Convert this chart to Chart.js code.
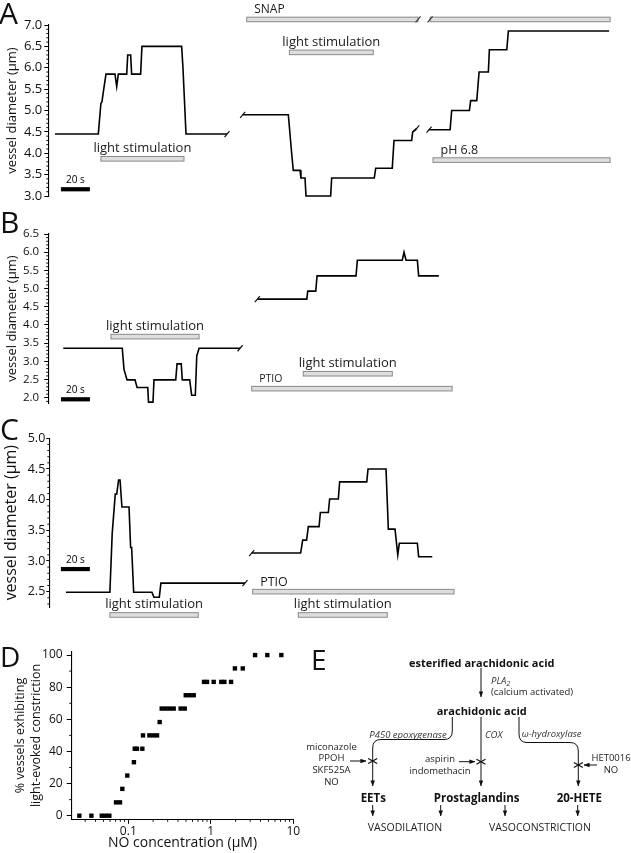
<!DOCTYPE html>
<html>
<head>
<meta charset="utf-8">
<script src="https://cdn.jsdelivr.net/npm/chart.js@4.4.1/dist/chart.umd.min.js"></script>
<style>
  body { margin: 0; background: #fff; }
  #page { position: relative; width: 631px; height: 853px; overflow: hidden; }
  canvas { position: absolute; left: 0; }
  svg { position: absolute; left: 0; top: 0; }
</style>
</head>
<body>
<div id="page">
  <canvas id="chartA" width="631" height="210" style="top:0px"></canvas>
  <canvas id="chartB" width="631" height="210" style="top:210px"></canvas>
  <canvas id="chartC" width="631" height="210" style="top:420px"></canvas>
  <canvas id="chartD" width="305" height="223" style="top:630px"></canvas>

  <svg width="631" height="853" font-family="'Open Sans', sans-serif" fill="#111">
    <defs>
      <marker id="ah" viewBox="0 0 8 6" refX="7.5" refY="3" markerWidth="6" markerHeight="4.5"
              markerUnits="userSpaceOnUse" orient="auto">
        <path d="M0,0L8,3L0,6z" fill="#111"/>
      </marker>
    </defs>
    <g font-size="30">
      <text x="-1" y="23.5">A</text>
      <text x="0" y="233">B</text>
      <text x="0" y="440">C</text>
    </g>
    <g font-size="28">
      <text x="0" y="666.5">D</text>
      <text x="311" y="670">E</text>
    </g>

    <!-- E: arachidonic acid pathways -->
    <g stroke="#111" stroke-width="1" fill="none">
      <path d="M481,668V697" marker-end="url(#ah)"/>
      <path d="M452.3,717V731Q452.3,739.5 444,739.5H381Q372.7,739.5 372.7,748V786" marker-end="url(#ah)"/>
      <path d="M481,717V786" marker-end="url(#ah)"/>
      <path d="M519,717V734Q519,742.5 527,742.5H570Q578.3,742.5 578.3,751V786" marker-end="url(#ah)"/>
      <path d="M350,761H366" marker-end="url(#ah)"/>
      <path d="M459,761.7H475" marker-end="url(#ah)"/>
      <path d="M597,765H584" marker-end="url(#ah)"/>
      <path d="M368.2,758.5L377.2,763.5M368.2,763.5L377.2,758.5" stroke-width="1.2"/>
      <path d="M476.5,759.2L485.5,764.2M476.5,764.2L485.5,759.2" stroke-width="1.2"/>
      <path d="M573.8,762.5L582.8,767.5M573.8,767.5L582.8,762.5" stroke-width="1.2"/>
      <path d="M372.7,805V816" marker-end="url(#ah)"/>
      <path d="M440.7,805V816" marker-end="url(#ah)"/>
      <path d="M505,805V816" marker-end="url(#ah)"/>
      <path d="M577.7,805V816" marker-end="url(#ah)"/>
    </g>
    <g dominant-baseline="central">
      <g font-weight="bold" font-size="11" text-anchor="middle">
        <text x="481.7" y="662.3">esterified arachidonic acid</text>
        <text x="481.7" y="710">arachidonic acid</text>
      </g>
      <g font-weight="bold" font-size="11.5" text-anchor="middle">
        <text x="373.3" y="797">EETs</text>
        <text x="476.7" y="797">Prostaglandins</text>
        <text x="579.3" y="797">20-HETE</text>
      </g>
      <g font-style="italic" font-size="9.5" fill="#333">
        <text x="491" y="680">PLA<tspan font-size="7.5" dy="2.5">2</tspan></text>
        <text x="446.7" y="734.3" text-anchor="end">P450 epoxygenase</text>
        <text x="485" y="734">COX</text>
        <text x="521.7" y="733.5">ω-hydroxylase</text>
      </g>
      <g font-size="9.5" fill="#222" text-anchor="middle">
        <text x="491" y="691.5" text-anchor="start">(calcium activated)</text>
        <text x="331.5" y="746">miconazole</text>
        <text x="331.5" y="757.7">PPOH</text>
        <text x="331.5" y="769.4">SKF525A</text>
        <text x="331.5" y="781">NO</text>
        <text x="440" y="758.3">aspirin</text>
        <text x="440" y="770">indomethacin</text>
        <text x="611" y="757">HET0016</text>
        <text x="611" y="769.5">NO</text>
      </g>
      <g font-size="10.5" fill="#222" text-anchor="middle">
        <text x="405" y="827.3">VASODILATION</text>
        <text x="540" y="827.3">VASOCONSTRICTION</text>
      </g>
    </g>
  </svg>
</div>

<script>
// ---------- data: vessel diameter traces (time in s, diameter in µm) ----------
const aSeg1Time = [0, 29.9, 31.7, 32.4, 33.3, 35.2, 41.4, 42.6, 43.7, 49.5, 50.2, 52.2, 52.9, 59.1, 60.0, 87.4, 88.3, 90.4, 118.7];
const aSeg1Diam = [4.45, 4.45, 5.17, 5.2, 5.42, 5.85, 5.85, 5.56, 5.85, 5.85, 6.3, 6.3, 5.85, 5.85, 6.5, 6.5, 6.0, 4.45, 4.45];
const aSeg2Time = [129.5, 161.0, 163.3, 164.4, 169.1, 169.7, 172.5, 173.2, 190.2, 190.9, 220.3, 221.3, 232.7, 233.9, 246.1, 246.8, 249.6];
const aSeg2Diam = [4.9, 4.9, 4.0, 3.6, 3.6, 3.42, 3.42, 3.0, 3.0, 3.42, 3.42, 3.65, 3.65, 4.3, 4.3, 4.5, 4.58];
const aSeg3Time = [258.1, 272.6, 273.7, 285.9, 286.8, 291.0, 292.6, 299.0, 299.7, 311.7, 312.8, 382.3];
const aSeg3Diam = [4.55, 4.55, 5.0, 5.0, 5.23, 5.23, 5.9, 5.9, 6.42, 6.42, 6.86, 6.86];

const bSeg1Time = [5.7, 46.4, 47.6, 49.7, 55.2, 56.6, 64.0, 64.5, 67.6, 68.3, 83.3, 84.2, 87.1, 87.8, 92.9, 94.3, 96.8, 97.8, 99.4, 127.7];
const bSeg1Diam = [3.36, 3.36, 2.78, 2.49, 2.49, 2.28, 2.28, 1.88, 1.88, 2.49, 2.49, 2.93, 2.93, 2.49, 2.49, 2.07, 2.07, 3.15, 3.36, 3.36];
const bSeg2Time = [139.6, 173.7, 174.4, 179.9, 180.8, 207.7, 208.6, 239.6, 240.8, 242.2, 250.0, 250.9, 264.8];
const bSeg2Diam = [4.71, 4.71, 4.93, 4.93, 5.35, 5.35, 5.78, 5.78, 6.0, 5.78, 5.78, 5.35, 5.35];

const cSeg1Time = [7.6, 37.9, 39.5, 41.6, 42.6, 43.9, 44.9, 46.2, 51.1, 52.2, 52.9, 54.3, 66.9, 68.3, 72.0, 73.1, 131.1];
const cSeg1Diam = [2.49, 2.49, 3.45, 4.09, 4.09, 4.32, 4.32, 3.88, 3.88, 3.22, 3.22, 2.49, 2.49, 2.41, 2.41, 2.64, 2.64];
const cSeg2Time = [135.7, 169.5, 170.9, 173.6, 174.8, 182.2, 183.1, 188.6, 189.5, 195.5, 196.4, 215.1, 216.0, 228.4, 230.0, 234.6, 236.5, 237.6, 250.0, 250.9, 260.3];
const cSeg2Diam = [3.13, 3.13, 3.34, 3.34, 3.56, 3.56, 3.79, 3.79, 4.01, 4.01, 4.29, 4.29, 4.5, 4.5, 3.52, 3.52, 3.1, 3.29, 3.29, 3.07, 3.07];

// treatment bars (start / end in s); "cont" = same treatment continued after a break
const aBarNames = ['light stimulation', 'SNAP', 'SNAP', 'light stimulation', 'pH 6.8'];
const aBarStart = [31.7, 132.3, 258.8, 161.7, 260.8];
const aBarEnd   = [89.0, 250.5, 383.0, 219.6, 383.0];
const aBarCont  = [false, false, true, false, false];

const bBarNames = ['light stimulation', 'light stimulation', 'PTIO'];
const bBarStart = [38.6, 171.3, 135.7];
const bBarEnd   = [99.4, 232.7, 274.0];
const bBarCont  = [false, false, false];

const cBarNames = ['light stimulation', 'PTIO', 'light stimulation'];
const cBarStart = [37.9, 136.4, 167.9];
const cBarEnd   = [98.9, 275.3, 229.3];
const cBarCont  = [false, false, false];

const scaleBarSeconds = 20;

// ---------- data: panel D ----------
const dConc = [0.0255, 0.0357, 0.0477, 0.0532, 0.0589, 0.0710, 0.0793, 0.0846, 0.0972, 0.117,
               0.1197, 0.1274, 0.148, 0.1507, 0.180, 0.201, 0.223, 0.240,
               0.254, 0.284, 0.318, 0.355, 0.431, 0.483, 0.497, 0.555, 0.621,
               0.828, 0.900, 1.083, 1.34, 1.46, 1.76, 1.96, 2.44, 3.44, 4.84, 7.16];
const dPct  = [0, 0, 0, 0, 0, 8.3, 8.3, 16.7, 25, 33.3,
               41.7, 41.7, 41.7, 50, 50, 50, 50, 58.3,
               66.7, 66.7, 66.7, 66.7, 66.7, 66.7, 75, 75, 75,
               83.3, 83.3, 83.3, 83.3, 83.3, 83.3, 91.7, 91.7, 100, 100, 100];
const dXTicks = [0.1, 1, 10];

// ---------- drawing ----------
const FONT = "'Open Sans', sans-serif";
Chart.defaults.font.family = FONT;
Chart.defaults.color = '#111';

function zip(ts, vs) {
  return ts.map((t, i) => ({ x: t, y: vs[i] }));
}

function slash(ctx, x, y) {
  ctx.beginPath();
  ctx.moveTo(x - 2.5, y + 3);
  ctx.lineTo(x + 2.5, y - 3);
  ctx.stroke();
}

const tracePlugin = {
  id: 'trace',
  afterDraw(chart, args, o) {
    const ctx = chart.ctx, xs = chart.scales.x, ys = chart.scales.y;
    ctx.save();
    ctx.strokeStyle = '#111';
    ctx.lineWidth = 1.2;
    // break marks where the recording was interrupted
    const sets = chart.data.datasets;
    sets.forEach((ds, i) => {
      const first = ds.data[0], last = ds.data[ds.data.length - 1];
      if (i > 0) slash(ctx, xs.getPixelForValue(first.x), ys.getPixelForValue(first.y));
      if (i < sets.length - 1) slash(ctx, xs.getPixelForValue(last.x), ys.getPixelForValue(last.y));
    });
    // treatment bars
    o.names.forEach((name, i) => {
      const x0 = xs.getPixelForValue(o.start[i]);
      const x1 = xs.getPixelForValue(o.end[i]);
      const y = ys.getPixelForValue(o.level[i]);
      ctx.fillStyle = '#dedede';
      ctx.strokeStyle = '#8a8a8a';
      ctx.lineWidth = 1;
      ctx.fillRect(x0, y - 2.3, x1 - x0, 4.6);
      ctx.strokeRect(x0, y - 2.3, x1 - x0, 4.6);
      ctx.strokeStyle = '#333';
      ctx.lineWidth = 1.1;
      if (o.cont[i]) slash(ctx, x0, y);
      if (o.cont[i + 1]) slash(ctx, x1, y);
      if (o.cont[i]) return;
      ctx.fillStyle = '#1a1a1a';
      ctx.textBaseline = 'middle';
      ctx.font = o.size[i] + 'px ' + FONT;
      if (name === 'light stimulation') {
        ctx.textAlign = 'center';
        ctx.fillText(name, (x0 + x1) / 2, y - 10.5);
      } else {
        ctx.textAlign = 'left';
        ctx.fillText(name, x0 + 7.5, y - 9.5);
      }
    });
    // 20 s scale bar
    const sx0 = xs.getPixelForValue(o.scaleStart);
    const sx1 = xs.getPixelForValue(o.scaleStart + scaleBarSeconds);
    const sy = ys.getPixelForValue(o.scaleLevel);
    ctx.fillStyle = '#000';
    ctx.fillRect(sx0, sy - 2, sx1 - sx0, 4.2);
    ctx.font = '10px ' + FONT;
    ctx.textAlign = 'center';
    ctx.textBaseline = 'middle';
    ctx.fillText(scaleBarSeconds + ' s', (sx0 + sx1) / 2, sy - 9);
    ctx.restore();
  }
};

const minorTicks = {
  id: 'minorTicks',
  afterDraw(chart, args, o) {
    const ctx = chart.ctx, area = chart.chartArea;
    ctx.save();
    ctx.strokeStyle = '#111';
    ctx.lineWidth = 1;
    if (o.yStep) {
      const ys = chart.scales.y;
      for (let k = Math.ceil(ys.min / o.yStep - 1e-9); k * o.yStep <= ys.max + 1e-9; k++) {
        const v = k * o.yStep;
        const r = v / o.yMajor;
        if (Math.abs(r - Math.round(r)) < 1e-6) continue;
        const p = ys.getPixelForValue(v);
        ctx.beginPath();
        ctx.moveTo(area.left, p);
        ctx.lineTo(area.left - o.len, p);
        ctx.stroke();
      }
    }
    if (o.xLog) {
      const xs = chart.scales.x;
      for (let e = Math.floor(Math.log10(xs.min)); e < Math.log10(xs.max); e++) {
        for (let m = 2; m < 10; m++) {
          const v = m * Math.pow(10, e);
          if (v < xs.min || v > xs.max) continue;
          const p = xs.getPixelForValue(v);
          ctx.beginPath();
          ctx.moveTo(p, area.bottom);
          ctx.lineTo(p, area.bottom + o.len);
          ctx.stroke();
        }
      }
    }
    ctx.restore();
  }
};

function traceChart(id, segs, cfg) {
  return new Chart(document.getElementById(id), {
    type: 'line',
    data: {
      datasets: segs.map(s => ({
        data: s, borderColor: '#000', borderWidth: 1.6, pointRadius: 0,
        tension: 0, fill: false, clip: false
      }))
    },
    options: {
      responsive: false, animation: false, events: [],
      layout: { padding: { left: 0, right: 631 - 612, top: cfg.top, bottom: cfg.bottom } },
      plugins: {
        legend: { display: false }, tooltip: { enabled: false },
        trace: cfg.trace,
        minorTicks: { yStep: 0.1, yMajor: 0.5, len: 2 }
      },
      scales: {
        x: { type: 'linear', display: false, min: cfg.xMin, max: 384.3 },
        y: {
          min: cfg.yMin, max: cfg.yMax,
          afterFit: s => { s.width = cfg.axisX; },
          border: { display: true, color: '#000', width: 1.1 },
          grid: { drawOnChartArea: false, drawTicks: true, tickLength: cfg.tickLen, tickColor: '#000' },
          ticks: {
            stepSize: 0.5, autoSkip: false, includeBounds: false, padding: cfg.tickPad,
            color: '#111', font: { size: cfg.tickSize },
            callback: v => v.toFixed(1)
          },
          title: {
            display: true, text: 'vessel diameter (µm)', color: '#111',
            font: { size: cfg.titleSize }, padding: { top: cfg.titlePad, bottom: 0 }
          }
        }
      }
    },
    plugins: [tracePlugin, minorTicks]
  });
}

traceChart('chartA', [zip(aSeg1Time, aSeg1Diam), zip(aSeg2Time, aSeg2Diam), zip(aSeg3Time, aSeg3Diam)], {
  top: 25, bottom: 14, xMin: -4.6, yMin: 3.0, yMax: 7.0, axisX: 48.3,
  tickLen: 4, tickPad: 2, tickSize: 13, titleSize: 13, titlePad: 4,
  trace: {
    names: aBarNames, start: aBarStart, end: aBarEnd, cont: aBarCont,
    level: [3.87, 7.13, 7.13, 6.36, 3.84], size: [13, 12, 12, 13, 12.5],
    scaleStart: 4.1, scaleLevel: 3.16
  }
});

traceChart('chartB', [zip(bSeg1Time, bSeg1Diam), zip(bSeg2Time, bSeg2Diam)], {
  top: 24, bottom: 16.8, xMin: -4.7, yMin: 1.85, yMax: 6.5, axisX: 48.2,
  tickLen: 4, tickPad: 5, tickSize: 11.5, titleSize: 13, titlePad: 4,
  trace: {
    names: bBarNames, start: bBarStart, end: bBarEnd, cont: bBarCont,
    level: [3.68, 2.66, 2.25], size: [13, 13, 10.5],
    scaleStart: 4.1, scaleLevel: 1.96
  }
});

traceChart('chartC', [zip(cSeg1Time, cSeg1Diam), zip(cSeg2Time, cSeg2Diam)], {
  top: 18.3, bottom: 23, xMin: -3.9, yMin: 2.25, yMax: 5.0, axisX: 49.3,
  tickLen: 3, tickPad: 1, tickSize: 12.5, titleSize: 16, titlePad: 2,
  trace: {
    names: cBarNames, start: cBarStart, end: cBarEnd, cont: cBarCont,
    level: [2.12, 2.5, 2.12], size: [13, 12.5, 13],
    scaleStart: 4.1, scaleLevel: 2.87
  }
});

new Chart(document.getElementById('chartD'), {
  type: 'scatter',
  data: {
    datasets: [{
      data: zip(dConc, dPct), pointStyle: 'rect', pointRadius: 3.1,
      backgroundColor: '#000', borderColor: '#000', borderWidth: 0, clip: false
    }]
  },
  options: {
    responsive: false, animation: false, events: [],
    layout: { padding: { left: 0, right: 305 - 293.3, top: 21.7, bottom: 0 } },
    plugins: {
      legend: { display: false }, tooltip: { enabled: false },
      minorTicks: { yStep: 10, yMajor: 20, len: 2.5, xLog: true }
    },
    scales: {
      x: {
        type: 'logarithmic', min: 0.0206, max: 10,
        afterBuildTicks: s => { s.ticks = dXTicks.map(v => ({ value: v })); },
        afterFit: s => { s.height = 223 - 189.3; },
        border: { display: true, color: '#000', width: 1.1 },
        grid: { drawOnChartArea: false, tickLength: 4.5, tickColor: '#000' },
        ticks: { autoSkip: false, maxRotation: 0, padding: 1, color: '#111', font: { size: 12 },
                 callback: v => String(v) },
        title: { display: true, text: 'NO concentration (µM)', color: '#111',
                 font: { size: 14 }, padding: { top: 0, bottom: 1.6 } }
      },
      y: {
        min: -2.24, max: 102.1,
        afterFit: s => { s.width = 71.7; },
        border: { display: true, color: '#000', width: 1.1 },
        grid: { drawOnChartArea: false, tickLength: 5, tickColor: '#000' },
        ticks: { stepSize: 20, includeBounds: false, autoSkip: false, padding: 4,
                 color: '#111', font: { size: 12 } },
        title: { display: true, text: ['% vessels exhibiting', 'light-evoked constriction'],
                 color: '#111', font: { size: 12.5, lineHeight: 1.33 }, padding: { top: 11.7, bottom: 0 } }
      }
    }
  },
  plugins: [minorTicks]
});
</script>
</body>
</html>
